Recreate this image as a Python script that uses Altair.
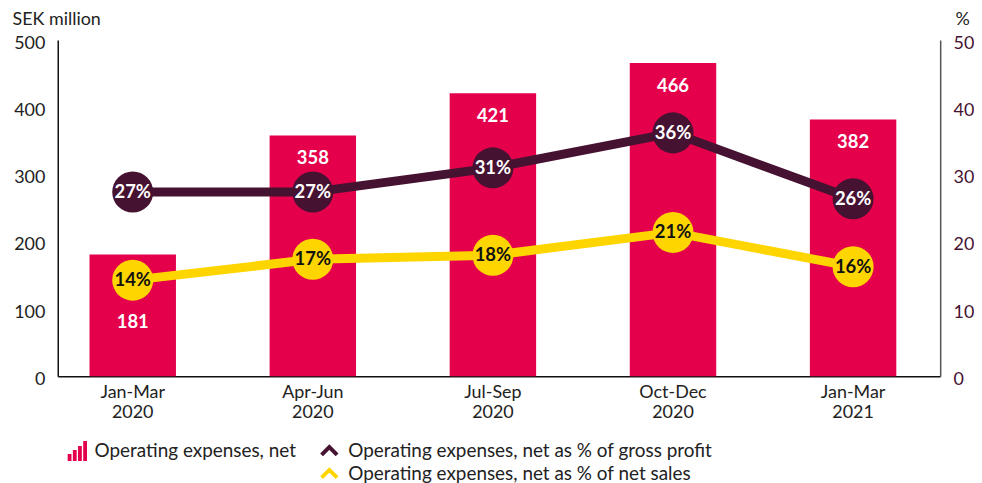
import altair as alt
import pandas as pd

quarters = ["Jan-Mar 2020", "Apr-Jun 2020", "Jul-Sep 2020", "Oct-Dec 2020", "Jan-Mar 2021"]
opex = [181, 358, 421, 466, 382]
pct_gross = [27.4, 27.4, 31.0, 36.2, 26.4]
pct_sales = [14.3, 17.4, 18.0, 21.4, 16.3]

bar_name = "Operating expenses, net"
s_gross = "Operating expenses, net as % of gross profit"
s_sales = "Operating expenses, net as % of net sales"

bars_df = pd.DataFrame({"quarter": quarters, "value": opex, "series": bar_name})
lines_df = pd.DataFrame({
    "quarter": quarters * 2,
    "pct": pct_gross + pct_sales,
    "series": [s_gross] * 5 + [s_sales] * 5,
})

CRIMSON = "#e4004b"
PURPLE = "#461232"
YELLOW = "#ffd500"
FONT = "Lato"
TXT = "#222222"

x_axis = alt.Axis(labelExpr="split(datum.label, ' ')", labelAngle=0, ticks=False,
                  labelFontSize=18, labelColor=TXT, labelPadding=7,
                  labelLineHeight=20, domainColor="#111111", domainWidth=1.5,
                  labelFont=FONT, title=None)
x_scale = alt.Scale(paddingInner=0.52, paddingOuter=0.21, align=0.42)


def xenc():
    return alt.X("quarter:N", sort=quarters, title=None, scale=x_scale, axis=x_axis)


left_axis = alt.Axis(values=[0, 100, 200, 300, 400, 500], ticks=False, grid=False,
                     title="SEK million", titleAngle=0, titleAlign="left",
                     titleBaseline="alphabetic", titleX=-46, titleY=-16,
                     titleFontSize=18, titleFontWeight="normal", titleColor=TXT,
                     titleFont=FONT, labelFont=FONT,
                     labelFontSize=18, labelColor=TXT, labelPadding=13, labelOffset=3,
                     domainColor="#111111", domainWidth=1.5)
left_scale = alt.Scale(domain=[0, 500], nice=False)

right_axis = alt.Axis(orient="right", values=[0, 10, 20, 30, 40, 50], ticks=False, grid=False,
                      title="%", titleAngle=0, titleAlign="center",
                      titleBaseline="alphabetic", titleX=22, titleY=-16,
                      titleFontSize=18, titleFontWeight="normal", titleColor=TXT,
                      titleFont=FONT, labelFont=FONT,
                      labelFontSize=18, labelColor=PURPLE, labelPadding=13, labelOffset=3,
                      domainColor="#555555", domainWidth=1.5)
right_scale = alt.Scale(domain=[0, 50], nice=False)

bar_icon = ("M-1,1H-0.62V0.3H-1Z M-0.48,1H-0.1V-0.1H-0.48Z "
            "M0.04,1H0.42V-0.5H0.04Z M0.56,1H0.94V-1H0.56Z")
chevron = "M-0.9,0.45L0,-0.45L0.9,0.45"

bars = alt.Chart(bars_df).mark_bar(color=CRIMSON).encode(
    x=xenc(),
    y=alt.Y("value:Q", scale=left_scale, axis=left_axis),
    fill=alt.Fill("series:N", scale=alt.Scale(range=[CRIMSON]),
                  legend=alt.Legend(title=None, orient="none", legendX=9, legendY=402,
                                    symbolType=bar_icon, symbolSize=400,
                                    labelFontSize=19, labelColor=TXT,
                                    labelFont=FONT, labelOffset=6, labelLimit=0)),
)

bar_labels = alt.Chart(bars_df).transform_calculate(
    ly="datum.value - (datum.value < 200 ? 100 : 34)"
).mark_text(color="white", fontSize=18.5, fontWeight="bold", font=FONT,
            baseline="middle").encode(
    x=xenc(),
    y=alt.Y("ly:Q", scale=left_scale, axis=left_axis),
    text=alt.Text("value:Q"),
)

left = alt.layer(bars, bar_labels)

line_color = alt.Scale(domain=[s_gross, s_sales], range=[PURPLE, YELLOW])

lines = alt.Chart(lines_df).mark_line(strokeWidth=9).encode(
    x=xenc(),
    y=alt.Y("pct:Q", scale=right_scale, axis=right_axis),
    stroke=alt.Stroke("series:N", scale=line_color,
                      legend=alt.Legend(title=None, orient="none", legendX=262, legendY=402,
                                        symbolType=chevron, symbolSize=300,
                                        symbolStrokeWidth=4, symbolFillColor="transparent",
                                        labelFontSize=19, labelColor=TXT,
                                        labelFont=FONT, rowPadding=-3, labelOffset=8,
                                        labelLimit=0)),
)

points = alt.Chart(lines_df).mark_point(filled=True, size=1700, opacity=1).encode(
    x=xenc(),
    y=alt.Y("pct:Q", scale=right_scale, axis=right_axis),
    fill=alt.Fill("series:N", scale=line_color, legend=None),
)

pct_labels = alt.Chart(lines_df).transform_calculate(
    lab="format(datum.pct, '.0f') + '%'"
).mark_text(fontSize=18.5, fontWeight="bold", font=FONT, baseline="middle").encode(
    x=xenc(),
    y=alt.Y("pct:Q", scale=right_scale, axis=right_axis),
    text="lab:N",
    color=alt.Color("series:N",
                    scale=alt.Scale(domain=[s_gross, s_sales], range=["#ffffff", "#111111"]),
                    legend=None),
)

right = alt.layer(lines, points, pct_labels)

chart = alt.layer(left, right).resolve_scale(
    y="independent", fill="independent", color="independent"
).properties(
    width=887, height=338,
    padding={"left": 4, "top": 1, "right": 0, "bottom": 0},
).configure_view(stroke=None).configure_axis(grid=False)

chart.save("out.html", embed_options={"renderer": "svg", "actions": False})
